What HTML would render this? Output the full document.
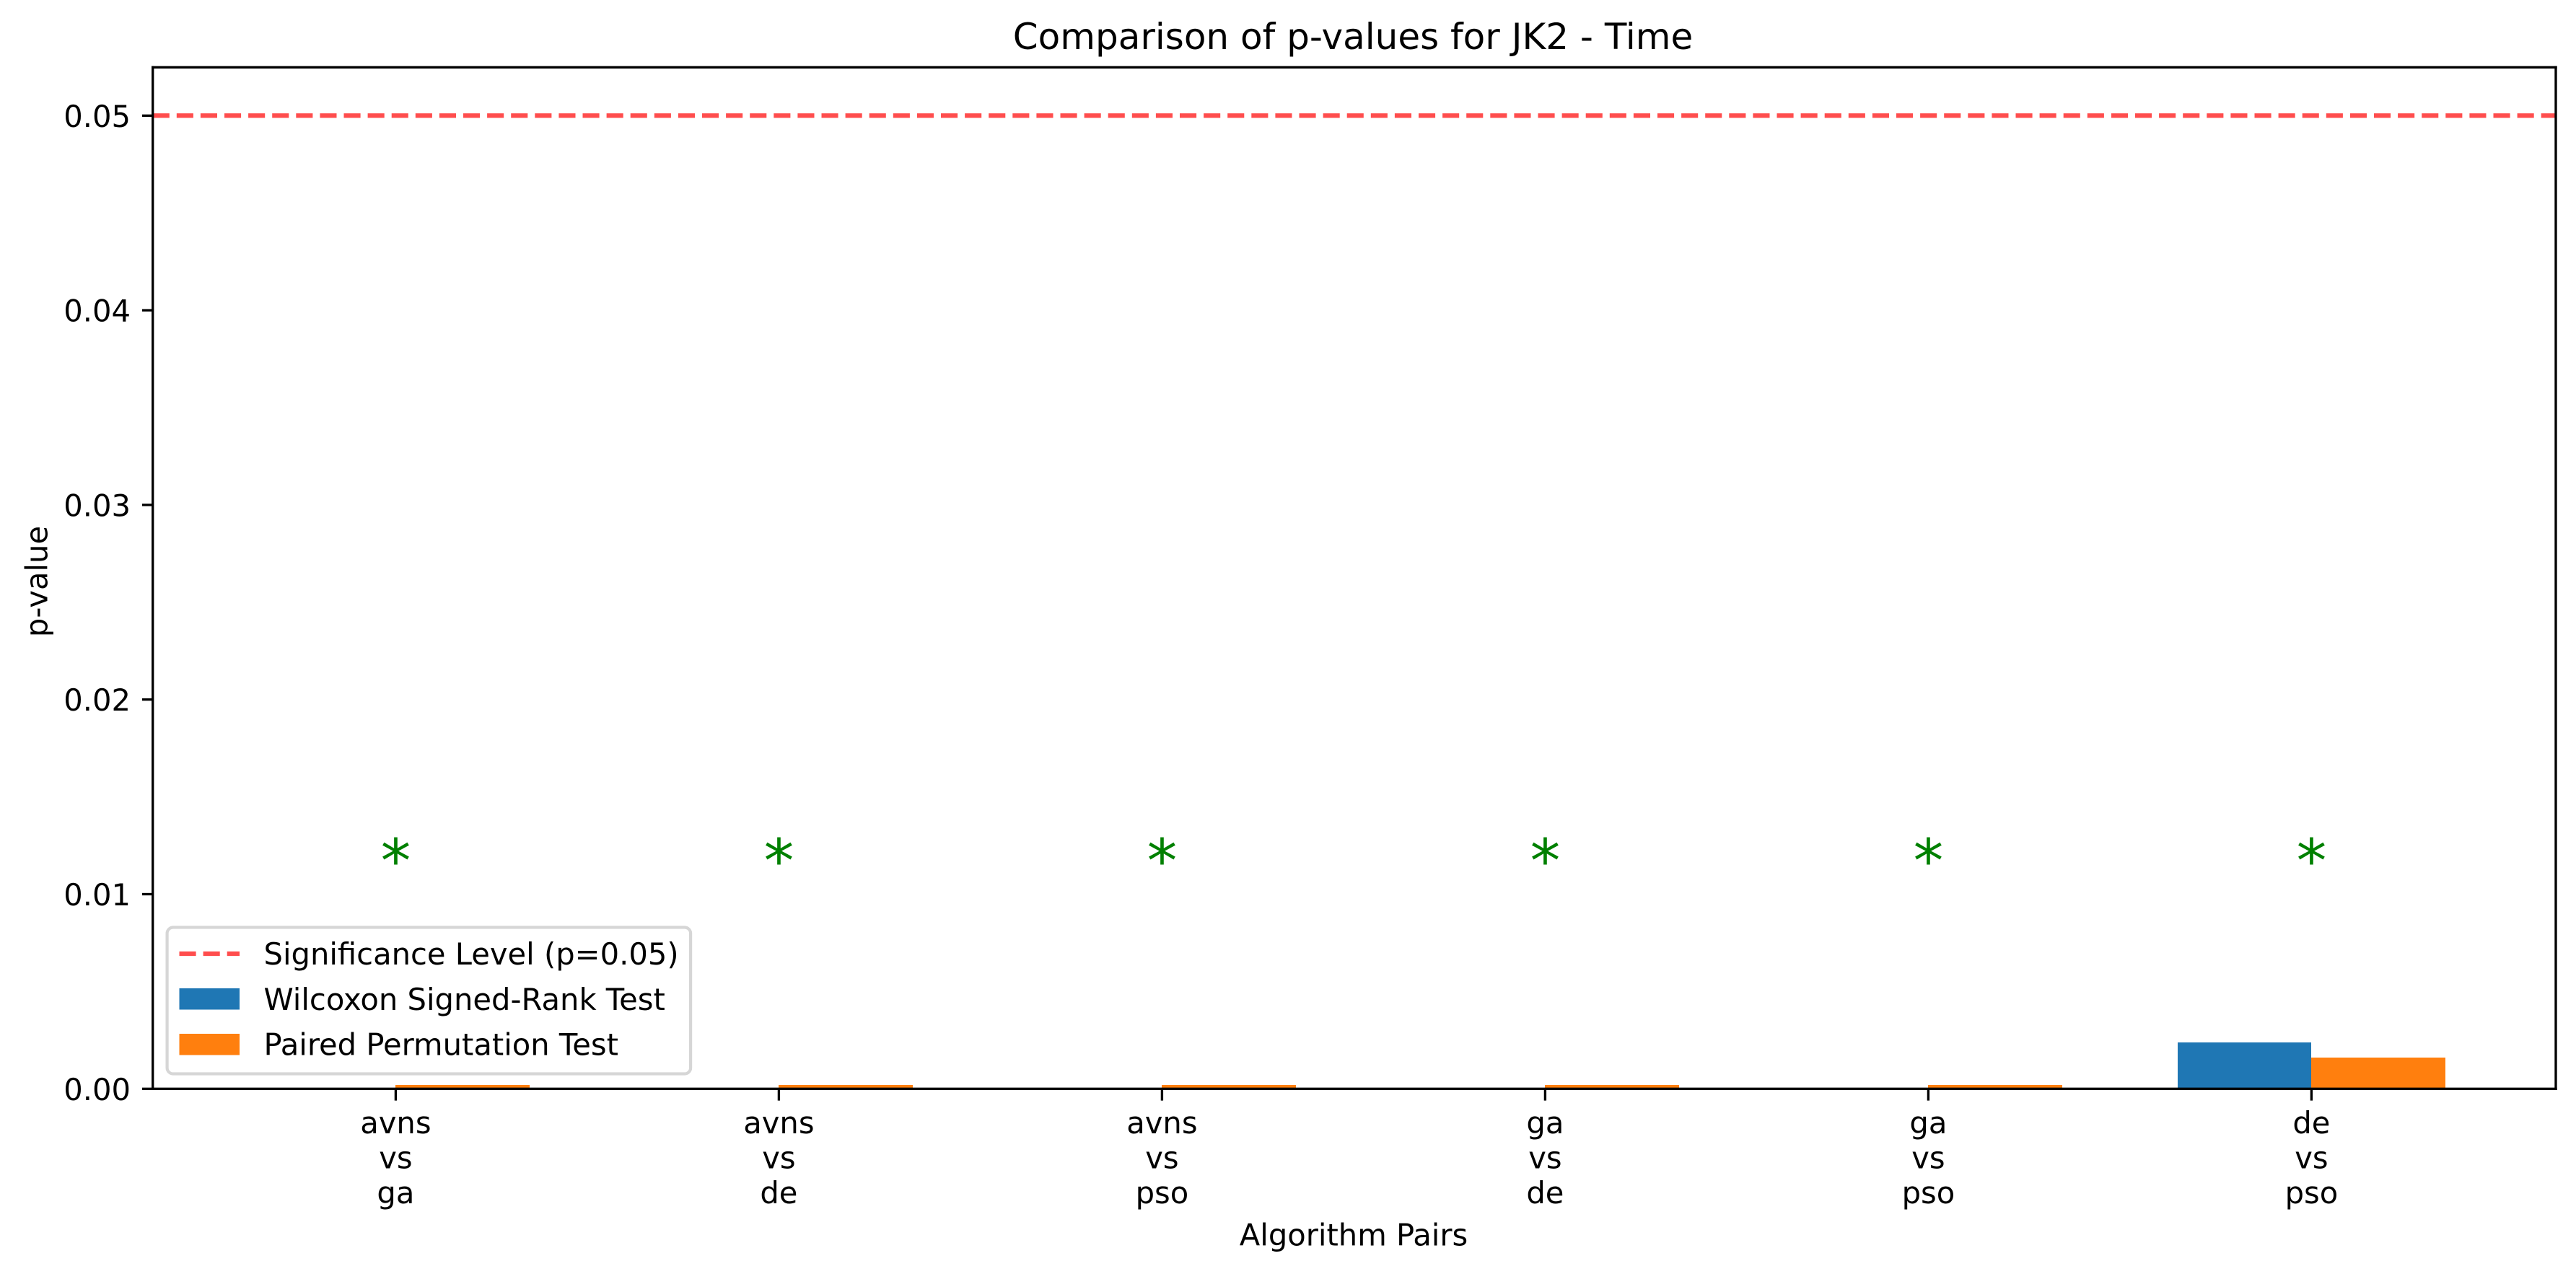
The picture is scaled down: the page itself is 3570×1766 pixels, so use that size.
<!DOCTYPE html>
<html>
<head>
<meta charset="utf-8">
<title>Comparison of p-values for JK2 - Time</title>
<style>
html,body{margin:0;padding:0;background:#fff;width:3570px;height:1766px;overflow:hidden}
svg{display:block}
text{font-family:"DejaVu Sans","Liberation Sans",sans-serif;fill:#000}
</style>
</head>
<body>
<svg id="chart" xmlns="http://www.w3.org/2000/svg" width="3570" height="1766" viewBox="0 0 3570 1766">
<rect x="0" y="0" width="3570" height="1766" fill="#fff"/>
<text x="1875" y="68" font-size="50" text-anchor="middle">Comparison of p-values for JK2 - Time</text>
<g id="bars"></g>
<g id="refline"></g>
<g id="stars"></g>
<g id="xticks"></g>
<g id="yticks"></g>
<g id="spines" stroke="#000" stroke-width="3.33" fill="none">
<line x1="211.7" y1="91.6" x2="211.7" y2="1511"/>
<line x1="3542" y1="91.6" x2="3542" y2="1511"/>
<line x1="210" y1="93.3" x2="3543.7" y2="93.3"/>
<line x1="210" y1="1509.3" x2="3543.7" y2="1509.3"/>
</g>
<text x="1876" y="1726.5" font-size="41.67" text-anchor="middle">Algorithm Pairs</text>
<text transform="translate(65.5 806) rotate(-90)" font-size="41.67" text-anchor="middle">p-value</text>
<g>
<rect x="231.6" y="1285.5" width="725.5" height="203" rx="8.3" ry="8.3" fill="#fff" fill-opacity="0.8" stroke="#d6d6d6" stroke-width="4.17"/>
<line x1="248.5" y1="1322" x2="332" y2="1322" stroke="#ff4d4d" stroke-width="6.25" stroke-dasharray="23.1 10"/>
<text x="365.5" y="1337" font-size="41.67">Significance Level (p=0.05)</text>
<rect x="248.5" y="1370" width="83.5" height="29.5" fill="#1f77b4"/>
<text x="365.5" y="1400" font-size="41.67">Wilcoxon Signed-Rank Test</text>
<rect x="248.5" y="1433" width="83.5" height="29.5" fill="#ff7f0e"/>
<text x="365.5" y="1462.5" font-size="41.67">Paired Permutation Test</text>
</g>
</svg>
<script>
var pairNames = [["avns","vs","ga"],["avns","vs","de"],["avns","vs","pso"],["ga","vs","de"],["ga","vs","pso"],["de","vs","pso"]];
var wilcoxonValues = [0.000002,0.000002,0.000002,0.000002,0.000002,0.00237];
var permutationValues = [0.0002,0.0002,0.0002,0.0002,0.0002,0.0016];
var markerValues = [0.012,0.012,0.012,0.012,0.012,0.012];
var significanceLevel = [0.05];
var yTickValues = [0,0.01,0.02,0.03,0.04,0.05];
var yTickLabels = ["0.00","0.01","0.02","0.03","0.04","0.05"];
var barWidthUnits = [0.35];

var NS = 'http://www.w3.org/2000/svg';
function xScale(i){ return 548.4 + i * 531; }
function yScale(v){ return 1509.3 - v * 26980; }
function make(tag, attrs, parent){
  var el = document.createElementNS(NS, tag);
  for (var k in attrs) el.setAttribute(k, attrs[k]);
  parent.appendChild(el);
  return el;
}
var barsG = document.getElementById('bars');
var bw = barWidthUnits[0];
var yBase = Math.round(yScale(0));
pairNames.forEach(function(p, i){
  var key = p[0] + '-' + p[2];
  var x0 = Math.round(xScale(i - bw)), x1 = Math.round(xScale(i)), x2 = Math.round(xScale(i + bw));
  var ya = Math.round(yScale(wilcoxonValues[i])), yb = Math.round(yScale(permutationValues[i]));
  var a = make('rect', {x:x0, y:ya, width:x1-x0, height:yBase-ya, fill:'#1f77b4'}, barsG);
  
  
  var b = make('rect', {x:x1, y:yb, width:x2-x1, height:yBase-yb, fill:'#ff7f0e'}, barsG);
  
  
});
var refG = document.getElementById('refline');
var ref = make('line', {x1:211.7, x2:3542, y1:yScale(significanceLevel[0]), y2:yScale(significanceLevel[0]), stroke:'#ff4d4d', 'stroke-width':6.25, 'stroke-dasharray':'23.1 10'}, refG);


var starsG = document.getElementById('stars');
markerValues.forEach(function(v, i){
  var s = make('text', {x:xScale(i), y:yScale(v)+37, 'font-size':83.33, 'text-anchor':'middle'}, starsG);
  
  
  s.style.fill = '#008000';
  s.textContent = '*';
});
var xG = document.getElementById('xticks');
var lineBaselines = [1571, 1619.5, 1668];
pairNames.forEach(function(p, i){
  var t = make('line', {x1:xScale(i), x2:xScale(i), y1:1509.3, y2:1525.6, stroke:'#000', 'stroke-width':3.33}, xG);
  
  
  p.forEach(function(word, j){
    var l = make('text', {x:xScale(i), y:lineBaselines[j], 'font-size':41.67, 'text-anchor':'middle'}, xG);
    
    
    l.textContent = word;
  });
});
var yG = document.getElementById('yticks');
yTickValues.forEach(function(v, i){
  var t = make('line', {x1:197, x2:211.7, y1:yScale(v), y2:yScale(v), stroke:'#000', 'stroke-width':3.33}, yG);
  
  
  var l = make('text', {x:181, y:yScale(v)+15.5, 'font-size':41.67, 'text-anchor':'end'}, yG);
  
  
  l.textContent = yTickLabels[i];
});
</script>
</body>
</html>
